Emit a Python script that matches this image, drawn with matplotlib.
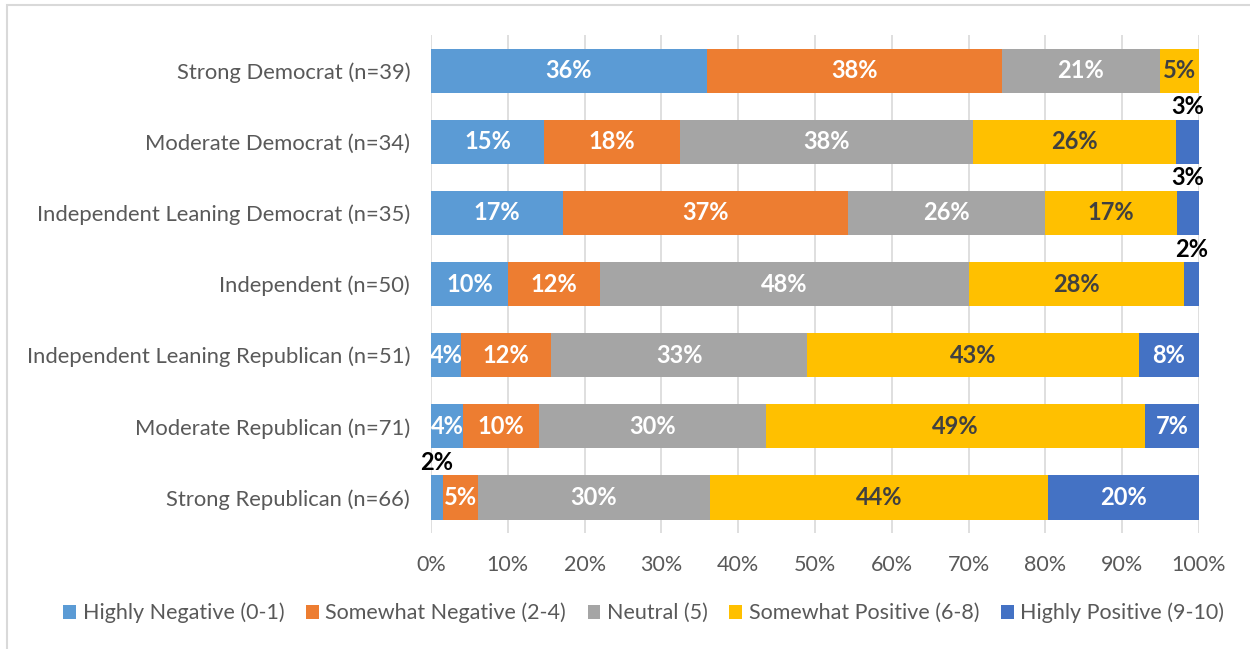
import matplotlib
matplotlib.use("Agg")
import matplotlib.pyplot as plt
from matplotlib.patches import Rectangle
import numpy as np

plt.rcParams['font.family'] = ['Lato', 'DejaVu Sans']

categories = [
    "Strong Democrat (n=39)",
    "Moderate Democrat (n=34)",
    "Independent Leaning Democrat (n=35)",
    "Independent (n=50)",
    "Independent Leaning Republican (n=51)",
    "Moderate Republican (n=71)",
    "Strong Republican (n=66)",
]
series_names = [
    "Highly Negative (0-1)",
    "Somewhat Negative (2-4)",
    "Neutral (5)",
    "Somewhat Positive (6-8)",
    "Highly Positive (9-10)",
]
highly_negative = [35.90, 14.71, 17.14, 10.00, 3.92, 4.23, 1.52]
somewhat_negative = [38.46, 17.65, 37.14, 12.00, 11.76, 9.86, 4.55]
neutral = [20.51, 38.24, 25.71, 48.00, 33.33, 29.58, 30.30]
somewhat_positive = [5.13, 26.47, 17.14, 28.00, 43.14, 49.30, 43.94]
highly_positive = [0.00, 2.94, 2.86, 2.00, 7.84, 7.04, 19.70]
x_ticks = [0, 10, 20, 30, 40, 50, 60, 70, 80, 90, 100]

colors = ["#5B9BD5", "#ED7D31", "#A5A5A5", "#FFC000", "#4472C4"]
text_colors = ["white", "white", "white", "#404040", "white"]
series = [highly_negative, somewhat_negative, neutral, somewhat_positive, highly_positive]

fig = plt.figure(figsize=(12.5, 6.49), dpi=100)
ax = fig.add_axes([0.3448, 0.1787, 0.6144, 0.7673])

y = np.arange(len(categories))
h = 0.62
left = np.zeros(len(categories))
for vals, col, tcol, name in zip(series, colors, text_colors, series_names):
    vals = np.array(vals)
    ax.barh(y, vals, left=left, height=h, color=col, label=name, zorder=3)
    for yi, (l, v) in enumerate(zip(left, vals)):
        if v <= 0:
            continue
        lab = f"{int(np.floor(v + 0.5))}%"
        cx = l + v / 2
        if v < 3.5:
            ax.text(cx, yi - h / 2 - 0.02, lab, ha='center', va='bottom',
                    color='black', fontsize=17, fontweight='bold', zorder=4)
        else:
            ax.text(cx, yi, lab, ha='center', va='center', color=tcol,
                    fontsize=17, fontweight='bold', zorder=4)
    left = left + vals

ax.set_xlim(0, 100)
ax.set_ylim(len(categories) - 0.5, -0.5)
ax.set_yticks(y)
ax.set_yticklabels(categories)
ax.set_xticks(x_ticks)
ax.set_xticklabels([f"{t}%" for t in x_ticks])
ax.tick_params(axis='y', length=0, pad=15, labelsize=15.8, labelcolor='#595959')
ax.tick_params(axis='x', length=0, pad=16, labelsize=15.5, labelcolor='#595959')
ax.grid(axis='x', color='#D9D9D9', linewidth=1.2, zorder=0)
for s in ax.spines.values():
    s.set_visible(False)

handles, labels = ax.get_legend_handles_labels()
fig.legend(handles, labels, loc='center', bbox_to_anchor=(0.515, 0.0555), ncol=5,
           frameon=False, fontsize=15.5, labelcolor='#595959', handlelength=0.6,
           handleheight=0.6, handletextpad=0.3, columnspacing=1.0)

# outer chart border
fig.add_artist(Rectangle((7 / 1250, -0.05), 1.1, 1 - 5 / 649 + 0.05, transform=fig.transFigure,
                         fill=False, edgecolor='#D9D9D9', linewidth=1.5))

fig.savefig("out.png", dpi=100)
